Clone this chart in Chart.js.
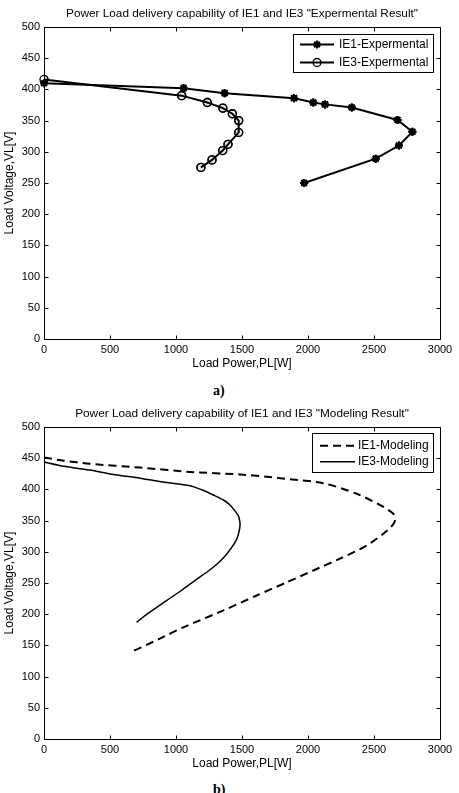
<!DOCTYPE html>
<html><head><meta charset="utf-8">
<script src="https://cdn.jsdelivr.net/npm/chart.js@4.4.0/dist/chart.umd.min.js"></script>
<style>
body{margin:0;background:#fff;width:459px;height:793px;position:relative;overflow:hidden;font-family:"Liberation Sans",Arial,sans-serif}
canvas{position:absolute;left:0}
#ca{top:0}
#cb{top:400px}
.lbl{position:absolute;font-family:"Liberation Serif","Times New Roman",serif;font-weight:bold;font-size:14px;line-height:16px}
</style></head><body>
<canvas id="ca" width="459" height="380"></canvas>
<canvas id="cb" width="459" height="380"></canvas>
<div class="lbl" style="left:213px;top:383px">a)</div>
<div class="lbl" style="left:213px;top:782px">b)</div>
<script>
// ---- data ----
const xTicks = [0, 500, 1000, 1500, 2000, 2500, 3000];
const yTicks = [0, 50, 100, 150, 200, 250, 300, 350, 400, 450, 500];

const titleA = 'Power Load delivery capability of IE1 and IE3 "Expermental Result"';
const titleB = 'Power Load delivery capability of IE1 and IE3 "Modeling Result"';
const xTitle = 'Load Power,PL[W]';
const yTitle = 'Load Voltage,VL[V]';

const ie1ExpPower   = [0, 1058, 1368, 1894, 2040, 2129, 2332, 2678, 2791, 2689, 2513, 1971];
const ie1ExpVoltage = [410, 402, 394, 386, 379, 376, 371, 351, 332, 310, 289, 250];
const ie3ExpPower   = [0, 1043, 1237, 1355, 1427, 1475, 1475, 1394, 1354, 1273, 1189];
const ie3ExpVoltage = [416, 390, 379, 370, 361, 350, 331, 312, 302, 287, 275];

const ie1ModPower   = [0, 150, 348, 727, 1106, 1485, 1788, 2116, 2369, 2545, 2646, 2659, 2630, 2571, 2444, 2242, 2040, 1838, 1611, 1359, 1056, 870, 677];
const ie1ModVoltage = [451, 446, 441, 435, 428, 424, 418, 410, 393, 375, 361, 350, 340, 329, 310, 289, 270, 251, 230, 206, 179, 160, 141];
const ie3ModPower   = [0, 150, 348, 525, 727, 900, 1106, 1200, 1283, 1359, 1409, 1445, 1472, 1483, 1485, 1475, 1455, 1415, 1375, 1320, 1250, 1150, 1040, 930, 854, 760, 702];
const ie3ModVoltage = [444, 437, 431, 424, 418, 412, 406, 399, 391, 383, 375, 366, 358, 349, 342, 330, 318, 305, 294, 282, 270, 255, 238, 222, 211, 197, 187];

const seriesLabelsA = ['IE1-Expermental', 'IE3-Expermental'];
const seriesLabelsB = ['IE1-Modeling', 'IE3-Modeling'];

const zip = (xs, ys) => xs.map((v, i) => ({x: v, y: ys[i]}));

// ---- style ----
const FAMILY = '"Liberation Sans", Arial, sans-serif';
const TICKFONT = {family: FAMILY, size: 11, weight: 'normal'};
const FONT = {family: FAMILY, size: 12, weight: 'normal'};

function drawMarker(ctx, style, x, y, r, bw) {
  ctx.save();
  ctx.lineWidth = bw;
  ctx.strokeStyle = '#000';
  ctx.beginPath();
  if (style === 'star') {
    for (let k = 0; k < 4; k++) {
      const a = k * Math.PI / 4;
      ctx.moveTo(x - r * Math.cos(a), y - r * Math.sin(a));
      ctx.lineTo(x + r * Math.cos(a), y + r * Math.sin(a));
    }
    ctx.stroke();
  } else if (style === 'circle') {
    ctx.arc(x, y, r, 0, Math.PI * 2);
    ctx.stroke();
  }
  ctx.restore();
}

const frame = {
  id: 'frame',
  afterDraw(chart) {
    const {ctx, chartArea: a, scales: {x, y}} = chart;
    ctx.save();
    ctx.strokeStyle = '#000';
    ctx.lineWidth = 1;
    const L = Math.round(a.left) + 0.5, R = Math.round(a.right) + 0.5;
    const T = Math.round(a.top) + 0.5, B = Math.round(a.bottom) + 0.5;
    ctx.strokeRect(L, T, R - L, B - T);
    ctx.beginPath();
    x.ticks.forEach(t => {
      const px = Math.round(x.getPixelForValue(t.value)) + 0.5;
      ctx.moveTo(px, B); ctx.lineTo(px, B - 4);
      ctx.moveTo(px, T); ctx.lineTo(px, T + 4);
    });
    y.ticks.forEach(t => {
      const py = Math.round(y.getPixelForValue(t.value)) + 0.5;
      ctx.moveTo(L, py); ctx.lineTo(L + 4, py);
      ctx.moveTo(R, py); ctx.lineTo(R - 4, py);
    });
    ctx.stroke();
    ctx.restore();
  }
};

// title centred over the plot area (MATLAB style)
const plotTitle = {
  id: 'plotTitle',
  afterDraw(chart, args, o) {
    const {ctx, chartArea: a} = chart;
    ctx.save();
    ctx.fillStyle = '#000';
    ctx.font = `${o.size}px ${FAMILY}`;
    ctx.textAlign = 'center';
    ctx.textBaseline = 'middle';
    ctx.fillText(o.text, (a.left + a.right) / 2, o.y);
    ctx.restore();
  }
};

const boxLegend = {
  id: 'boxLegend',
  afterDraw(chart, args, o) {
    const {ctx} = chart;
    ctx.save();
    ctx.fillStyle = '#fff';
    ctx.fillRect(o.x, o.y, o.w, o.h);
    ctx.strokeStyle = '#000';
    ctx.lineWidth = 1;
    ctx.strokeRect(o.x + 0.5, o.y + 0.5, o.w, o.h);
    chart.data.datasets.forEach((ds, i) => {
      const cy = o.y + o.row0 + i * o.rowGap;
      ctx.beginPath();
      ctx.setLineDash(ds.borderDash || []);
      ctx.lineWidth = ds.borderWidth;
      ctx.strokeStyle = '#000';
      ctx.moveTo(o.x + o.l0, cy);
      ctx.lineTo(o.x + o.l1, cy);
      ctx.stroke();
      ctx.setLineDash([]);
      if (ds.pointRadius > 0) {
        drawMarker(ctx, ds.pointStyle, o.x + (o.l0 + o.l1) / 2, cy, ds.pointRadius, ds.pointBorderWidth);
      }
      ctx.fillStyle = '#000';
      ctx.font = `${FONT.size}px ${FONT.family}`;
      ctx.textBaseline = 'middle';
      ctx.textAlign = 'left';
      ctx.fillText(ds.label, o.x + o.tx, cy);
    });
    ctx.restore();
  }
};

const markerPlugin = {
  id: 'markers',
  afterDatasetsDraw(chart) {
    const {ctx} = chart;
    chart.data.datasets.forEach((ds, i) => {
      if (!(ds.pointRadius > 0)) return;
      const meta = chart.getDatasetMeta(i);
      meta.data.forEach(p => drawMarker(ctx, ds.pointStyle, p.x, p.y, ds.pointRadius, ds.pointBorderWidth));
    });
  }
};

function makeOptions(title, legendOpts) {
  return {
    responsive: false,
    animation: false,
    devicePixelRatio: 1,
    layout: {padding: {left: 0, right: 19, top: 27, bottom: 0}},
    elements: {point: {radius: 0, hoverRadius: 0}},
    plugins: {
      legend: {display: false},
      tooltip: {enabled: false},
      title: {display: false},
      plotTitle: {text: title, y: 14, size: 11.8},
      boxLegend: legendOpts
    },
    scales: {
      x: {
        type: 'linear', min: 0, max: 3000,
        afterBuildTicks: s => { s.ticks = xTicks.map(v => ({value: v})); },
        afterFit: s => { s.height = 41; },
        grid: {display: false, drawTicks: false},
        border: {display: false},
        ticks: {color: '#000', font: TICKFONT, padding: 4, maxRotation: 0, autoSkip: false,
                callback: (v, i) => String(xTicks[i])},
        title: {display: true, text: xTitle, color: '#000', font: FONT, padding: {top: 0, bottom: 9}}
      },
      y: {
        type: 'linear', min: 0, max: 500,
        afterBuildTicks: s => { s.ticks = yTicks.map(v => ({value: v})); },
        afterFit: s => { s.width = 44; },
        grid: {display: false, drawTicks: false},
        border: {display: false},
        ticks: {color: '#000', font: TICKFONT, padding: 4, autoSkip: false,
                callback: (v, i) => String(yTicks[i])},
        title: {display: true, text: yTitle, color: '#000', font: FONT, padding: {top: 2, bottom: 0}}
      }
    }
  };
}

new Chart(document.getElementById('ca'), {
  type: 'scatter',
  data: {
    datasets: [
      {label: seriesLabelsA[0], data: zip(ie1ExpPower, ie1ExpVoltage), showLine: true,
       borderColor: '#000', borderWidth: 2, pointStyle: 'star', pointRadius: 4, pointBorderWidth: 2, tension: 0},
      {label: seriesLabelsA[1], data: zip(ie3ExpPower, ie3ExpVoltage), showLine: true,
       borderColor: '#000', borderWidth: 2, pointStyle: 'circle', pointRadius: 4, pointBorderWidth: 1.3, tension: 0}
    ]
  },
  options: makeOptions(titleA, {x: 293, y: 34, w: 140, h: 38, row0: 10.5, rowGap: 18, l0: 7, l1: 41, tx: 46}),
  plugins: [frame, markerPlugin, boxLegend, plotTitle]
});

new Chart(document.getElementById('cb'), {
  type: 'scatter',
  data: {
    datasets: [
      {label: seriesLabelsB[0], data: zip(ie1ModPower, ie1ModVoltage), showLine: true,
       borderColor: '#000', borderWidth: 2, borderDash: [8, 5], pointRadius: 0, tension: 0.25},
      {label: seriesLabelsB[1], data: zip(ie3ModPower, ie3ModVoltage), showLine: true,
       borderColor: '#000', borderWidth: 1.5, pointRadius: 0, tension: 0.25}
    ]
  },
  options: makeOptions(titleB, {x: 312, y: 33, w: 121, h: 39, row0: 12.7, rowGap: 16, l0: 8, l1: 43, tx: 46}),
  plugins: [frame, markerPlugin, boxLegend, plotTitle]
});
</script>
</body></html>
